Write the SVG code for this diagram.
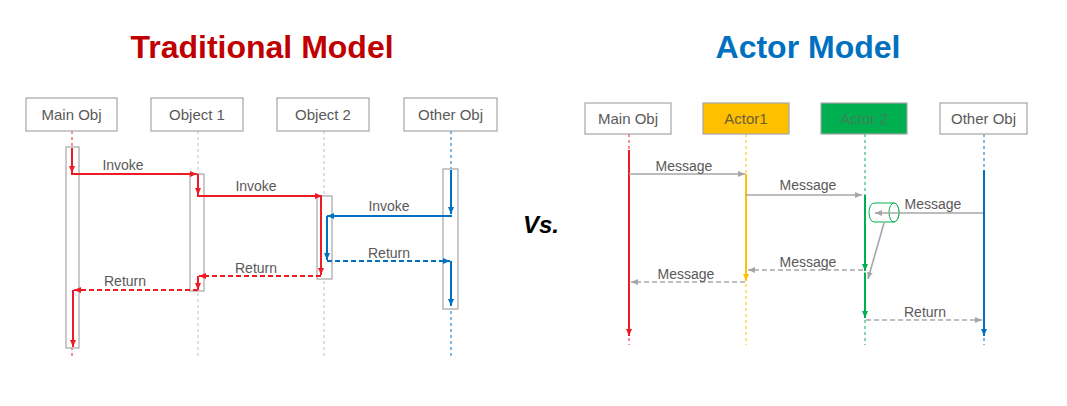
<svg xmlns="http://www.w3.org/2000/svg" width="1067" height="406" viewBox="0 0 1067 406">
<style>
.box{fill:#fff;stroke:#A6A6A6;stroke-width:1.2}
.act{fill:#fff;stroke:#A6A6A6;stroke-width:1.2}
.nt{font-family:"Liberation Sans",Arial,sans-serif;font-size:15px;fill:#595959;text-anchor:middle}
.lb{font-family:"Liberation Sans",Arial,sans-serif;font-size:14px;fill:#595959;text-anchor:middle}
.ll{fill:none;stroke-width:1;stroke-dasharray:3 3}
.red{stroke:#ED1C24;stroke-width:2;fill:none;marker-end:url(#aR)}
.blue{stroke:#0070C0;stroke-width:2;fill:none;marker-end:url(#aB)}
.gry{stroke:#A6A6A6;stroke-width:1.6;fill:none;marker-end:url(#aG)}
.dash{stroke-dasharray:5 3}
.yel{stroke:#FFC000;stroke-width:2;fill:none;marker-end:url(#aY)}
.grn{stroke:#00B050;stroke-width:2;fill:none;marker-end:url(#aN)}
.title{font-family:"Liberation Sans",Arial,sans-serif;font-size:32px;font-weight:bold;text-anchor:middle}
</style>
<defs>
<marker id="aR" viewBox="0 0 7 6" refX="7" refY="3" markerWidth="7" markerHeight="6" markerUnits="userSpaceOnUse" orient="auto"><path d="M0,0 L7,3 L0,6 z" fill="#ED1C24"/></marker>
<marker id="aB" viewBox="0 0 7 6" refX="7" refY="3" markerWidth="7" markerHeight="6" markerUnits="userSpaceOnUse" orient="auto"><path d="M0,0 L7,3 L0,6 z" fill="#0070C0"/></marker>
<marker id="aG" viewBox="0 0 7 6" refX="7" refY="3" markerWidth="7" markerHeight="6" markerUnits="userSpaceOnUse" orient="auto"><path d="M0,0 L7,3 L0,6 z" fill="#A6A6A6"/></marker>
<marker id="aY" viewBox="0 0 7 6" refX="7" refY="3" markerWidth="7" markerHeight="6" markerUnits="userSpaceOnUse" orient="auto"><path d="M0,0 L7,3 L0,6 z" fill="#FFC000"/></marker>
<marker id="aN" viewBox="0 0 7 6" refX="7" refY="3" markerWidth="7" markerHeight="6" markerUnits="userSpaceOnUse" orient="auto"><path d="M0,0 L7,3 L0,6 z" fill="#00B050"/></marker>
</defs>
<rect width="1067" height="406" fill="#fff"/>

<text class="title" x="262" y="58" fill="#C00000">Traditional Model</text>
<text class="title" x="808" y="58" fill="#0070C0">Actor Model</text>
<text x="541" y="233" font-family="Liberation Sans,Arial,sans-serif" font-size="24" font-weight="bold" font-style="italic" text-anchor="middle" fill="#000">Vs.</text>

<!-- Traditional lifelines -->
<g id="lifelines-left">
<line class="ll" x1="72" y1="131" x2="72" y2="358" stroke="#ED1C24"/>
<line class="ll" x1="198" y1="131" x2="198" y2="358" stroke="#BFBFBF"/>
<line class="ll" x1="324" y1="131" x2="324" y2="358" stroke="#BFBFBF"/>
<line class="ll" x1="451" y1="131" x2="451" y2="358" stroke="#0070C0"/>
</g>

<g id="t-main"><rect class="box" x="26" y="98" width="91" height="33"/><text class="nt" x="71.5" y="120">Main Obj</text><rect class="act" x="66" y="147" width="13" height="201"/></g>
<g id="t-obj1"><rect class="box" x="151" y="98" width="92" height="33"/><text class="nt" x="197" y="120">Object 1</text><rect class="act" x="190" y="174" width="14" height="117"/></g>
<g id="t-obj2"><rect class="box" x="277" y="98" width="92" height="33"/><text class="nt" x="323" y="120">Object 2</text><rect class="act" x="317" y="196" width="15" height="83"/></g>
<g id="t-other"><rect class="box" x="404" y="98" width="93" height="33"/><text class="nt" x="450.5" y="120">Other Obj</text><rect class="act" x="443" y="169" width="15" height="140"/></g>

<g id="connectors-left">
<line class="red" x1="72" y1="148" x2="72" y2="173"/>
<line class="red" x1="71" y1="174" x2="197" y2="174"/>
<line class="red" x1="198" y1="174" x2="198" y2="195"/>
<line class="red" x1="197" y1="196" x2="322" y2="196"/>
<line class="red" x1="321" y1="196" x2="321" y2="275"/>
<line class="red dash" x1="321" y1="276" x2="199" y2="276"/>
<line class="red" x1="198" y1="276" x2="198" y2="290"/>
<line class="red dash" x1="198" y1="290" x2="74" y2="290"/>
<line class="red" x1="73" y1="290" x2="73" y2="347"/>
<line class="blue" x1="451" y1="170" x2="451" y2="214"/>
<line class="blue" x1="452" y1="216" x2="327" y2="216"/>
<line class="blue" x1="327" y1="216" x2="327" y2="260"/>
<line class="blue dash" x1="327" y1="261" x2="450" y2="261"/>
<line class="blue" x1="451" y1="261" x2="451" y2="306"/>
<text class="lb" x="123" y="170">Invoke</text>
<text class="lb" x="256" y="191">Invoke</text>
<text class="lb" x="389" y="211">Invoke</text>
<text class="lb" x="389" y="258">Return</text>
<text class="lb" x="256" y="273">Return</text>
<text class="lb" x="125" y="286">Return</text>
</g>

<!-- Actor model -->
<g id="lifelines-right">
<line class="ll" x1="629" y1="134" x2="629" y2="345" stroke="#ED1C24"/>
<line class="ll" x1="746" y1="134" x2="746" y2="345" stroke="#FFC000"/>
<line class="ll" x1="865" y1="134" x2="865" y2="345" stroke="#00B050"/>
<line class="ll" x1="984" y1="134" x2="984" y2="345" stroke="#0070C0"/>
</g>

<g id="a-main"><rect class="box" x="585" y="103" width="86" height="31"/><text class="nt" x="628" y="124">Main Obj</text></g>
<g id="a-actor1"><rect x="703" y="103" width="86" height="31" fill="#FFC000" stroke="#A6A6A6" stroke-width="1.2"/><text class="nt" x="746" y="124" fill="#6B5D3A" style="fill:#6B5D3A">Actor1</text></g>
<g id="a-actor2"><rect x="821" y="103" width="86" height="31" fill="#00B050" stroke="#A6A6A6" stroke-width="1.2"/><text class="nt" x="864" y="124" style="fill:#3E8258">Actor 2</text></g>
<g id="a-other"><rect class="box" x="940" y="103" width="87" height="31"/><text class="nt" x="983.5" y="124">Other Obj</text></g>
<g id="queue">
<path d="M874,203 H894 A5,9.5 0 0 1 894,222 H874 A5,9.5 0 0 1 874,203 Z" fill="#fff" stroke="#00B050" stroke-width="1"/>
<ellipse cx="894" cy="212.5" rx="5" ry="9.5" fill="#fff" stroke="#00B050" stroke-width="1"/>
</g>

<g id="connectors-right">
<line class="red" x1="629" y1="150" x2="629" y2="336"/>
<line class="yel" x1="746" y1="174" x2="746" y2="281"/>
<line class="grn" x1="865" y1="195" x2="865" y2="271"/>
<line class="grn" x1="865" y1="273" x2="865" y2="318"/>
<line class="blue" x1="984" y1="170" x2="984" y2="336"/>
<line class="gry" x1="629" y1="174" x2="745" y2="174"/>
<line class="gry" x1="746" y1="195" x2="862" y2="195"/>
<line class="gry" x1="983" y1="213" x2="875" y2="213"/>
<line class="gry" x1="884" y1="223" x2="868" y2="279"/>
<line class="gry dash" x1="863" y1="270" x2="748" y2="270"/>
<line class="gry dash" x1="745" y1="282" x2="631" y2="282"/>
<line class="gry dash" x1="866" y1="320" x2="982" y2="320"/>
<text class="lb" x="684" y="171">Message</text>
<text class="lb" x="808" y="190">Message</text>
<text class="lb" x="933" y="209">Message</text>
<text class="lb" x="808" y="267">Message</text>
<text class="lb" x="686" y="279">Message</text>
<text class="lb" x="925" y="317">Return</text>
</g>
</svg>
